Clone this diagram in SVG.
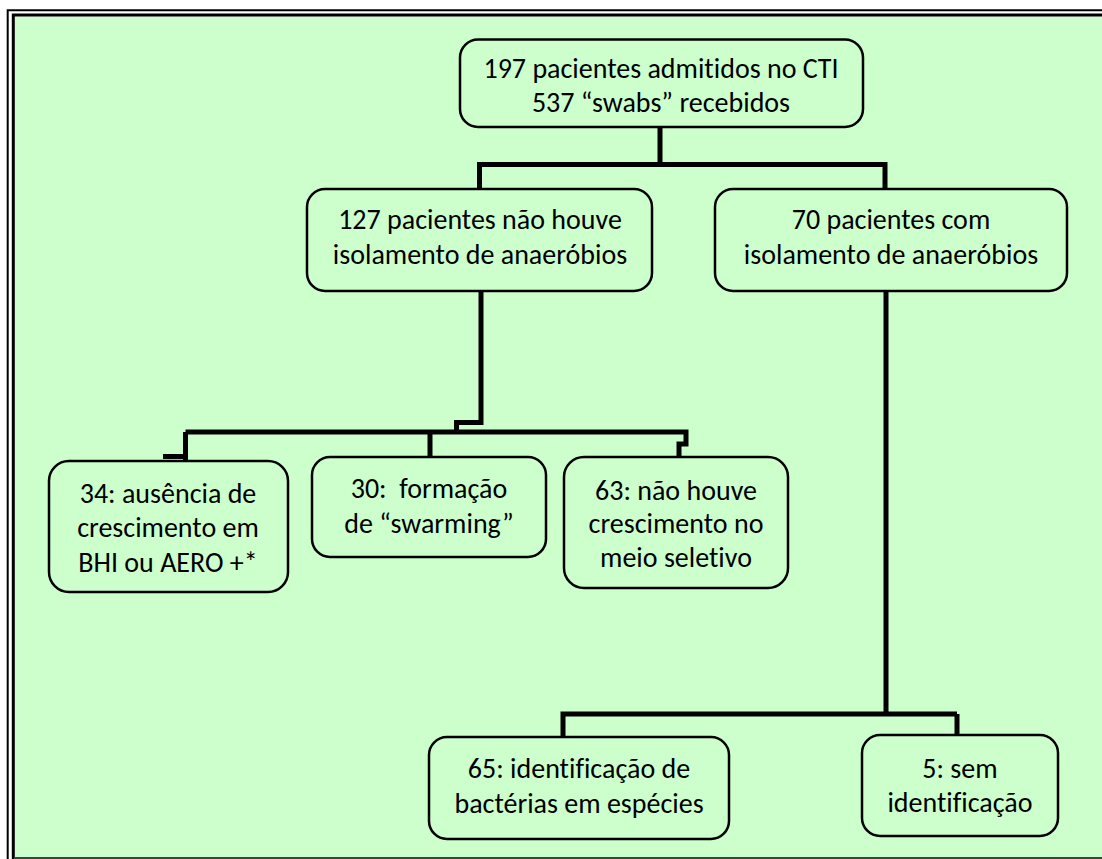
<svg xmlns="http://www.w3.org/2000/svg" width="1102" height="859" viewBox="0 0 1102 859">
<style>
.node rect{fill:#CCFFCC;stroke:#000;stroke-width:2.5}
.node text{font-family:Carlito,Calibri,Lato,"Liberation Sans",sans-serif;font-size:28px;fill:#000;text-anchor:middle;font-variant-ligatures:none}
.conn path{fill:none;stroke:#000;stroke-width:5;stroke-linejoin:miter;stroke-linecap:butt}
</style>
<rect x="0" y="0" width="1102" height="859" fill="#fff"/>
<rect x="14.5" y="16.5" width="1088" height="841" fill="#CCFFCC"/>
<path d="M7.7 859 V10.3 H1102" fill="none" stroke="#000" stroke-width="2"/>
<path d="M13.3 859 V15 H1102" fill="none" stroke="#000" stroke-width="3"/>
<path d="M14 858 H1102" fill="none" stroke="#3c463c" stroke-width="2"/>
<g class="conn" id="connectors">
<path d="M660 127 V164.5 H885 V190"/>
<path d="M660 164.5 H479.5 V189"/>
<path d="M481 290 V422.5 H456.5 V432"/>
<path d="M185.5 432 H686 V444 H679 V457"/>
<path d="M185.5 432 V456.5 H163 M185.5 456.5 V460"/>
<path d="M430 432 V457"/>
<path d="M886 290 V714"/>
<path d="M957 714 H563 V737 M957 714 V735"/>
</g>
<g class="node" id="n197"><rect x="460" y="39.5" width="403" height="87.5" rx="18"/><text x="661" y="78">197 pacientes admitidos no CTI</text><text x="661" y="112">537 “swabs” recebidos</text></g>
<g class="node" id="n127"><rect x="307" y="189" width="345" height="102" rx="18"/><text x="480" y="229">127 pacientes não houve</text><text x="480" y="264">isolamento de anaeróbios</text></g>
<g class="node" id="n70"><rect x="715" y="189" width="352" height="102" rx="18"/><text x="891" y="229">70 pacientes com</text><text x="891" y="264">isolamento de anaeróbios</text></g>
<g class="node" id="n34"><rect x="49" y="461" width="239" height="131" rx="20"/><text x="168" y="503">34: ausência de</text><text x="168" y="537">crescimento em</text><text x="168" y="572">BHI ou AERO +*</text></g>
<g class="node" id="n30"><rect x="312" y="457" width="234" height="100" rx="18"/><text x="429" y="498" xml:space="preserve">30:  formação</text><text x="429" y="533">de “swarming”</text></g>
<g class="node" id="n63"><rect x="564" y="457" width="224" height="131" rx="20"/><text x="676" y="500">63: não houve</text><text x="676" y="533">crescimento no</text><text x="676" y="567">meio seletivo</text></g>
<g class="node" id="n65"><rect x="429" y="737" width="300" height="102" rx="18"/><text x="579" y="778">65: identificação de</text><text x="579" y="813">bactérias em espécies</text></g>
<g class="node" id="n5"><rect x="862" y="735" width="196" height="101" rx="18"/><text x="960" y="778">5: sem</text><text x="960" y="812">identificação</text></g>
</svg>
